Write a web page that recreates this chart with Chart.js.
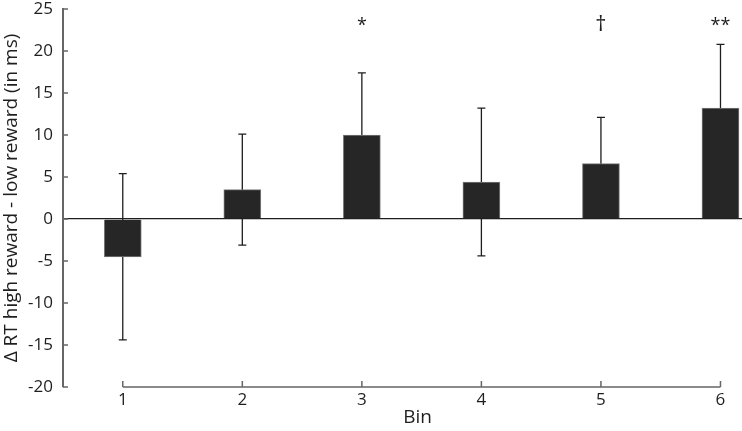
<!DOCTYPE html>
<html>
<head>
<meta charset="utf-8">
<script src="https://cdn.jsdelivr.net/npm/chart.js@4/dist/chart.umd.min.js"></script>
<style>
  html, body { margin: 0; padding: 0; background: #fff; }
  #wrap { width: 742px; height: 431px; }
</style>
</head>
<body>
<div id="wrap"><canvas id="c"></canvas></div>
<script>
const bins = [1, 2, 3, 4, 5, 6];
const means = [-4.5, 3.5, 10.0, 4.4, 6.6, 13.2];
const errors = [9.9, 6.6, 7.4, 8.8, 5.5, 7.6];
const marks = ["", "", "*", "", "†", "**"];
const yTicks = [-20, -15, -10, -5, 0, 5, 10, 15, 20, 25];

const cbar = "#262626";
const cedge = "#7a7a7a";
const cline = "#1e1e1e";
const caxis = "#666666";
const font = "'Open Sans', sans-serif";

// error bars, axis ticks and significance marks
const extras = {
  id: "extras",
  beforeDatasetsDraw(chart) {
    const ctx = chart.ctx;
    const x = chart.scales.x, y = chart.scales.y;
    ctx.save();
    ctx.strokeStyle = cline;
    ctx.lineWidth = 1.3;
    bins.forEach((b, i) => {
      const px = x.getPixelForValue(b);
      const top = y.getPixelForValue(means[i] + errors[i]);
      const bot = y.getPixelForValue(means[i] - errors[i]);
      ctx.beginPath();
      ctx.moveTo(px, top); ctx.lineTo(px, bot);
      ctx.moveTo(px - 4, top); ctx.lineTo(px + 4, top);
      ctx.moveTo(px - 4, bot); ctx.lineTo(px + 4, bot);
      ctx.stroke();
    });
    ctx.restore();
  },
  afterDraw(chart) {
    const ctx = chart.ctx;
    const x = chart.scales.x, y = chart.scales.y;
    const area = chart.chartArea;
    ctx.save();
    // y ticks pointing inward
    ctx.strokeStyle = caxis;
    ctx.lineWidth = 1.5;
    yTicks.forEach(v => {
      const py = y.getPixelForValue(v);
      ctx.beginPath();
      ctx.moveTo(area.left, py); ctx.lineTo(area.left + 5, py);
      ctx.stroke();
    });
    // x axis line only between first and last bin
    const x0 = x.getPixelForValue(bins[0]);
    const x1 = x.getPixelForValue(bins[bins.length - 1]);
    const by = area.bottom;
    ctx.beginPath();
    ctx.moveTo(x0, by); ctx.lineTo(x1, by);
    bins.forEach(b => {
      const px = x.getPixelForValue(b);
      ctx.moveTo(px, by); ctx.lineTo(px, by - 6);
    });
    ctx.stroke();
    // x title
    ctx.fillStyle = cline;
    ctx.font = "19px " + font;
    ctx.textAlign = "center";
    ctx.textBaseline = "middle";
    ctx.fillText("Bin", (x0 + x1) / 2 - 4, 418);
    // significance marks
    ctx.textBaseline = "alphabetic";
    bins.forEach((b, i) => {
      if (!marks[i]) return;
      ctx.font = (marks[i] === "†" ? "22px " : "18px ") + font;
      ctx.fillText(marks[i], x.getPixelForValue(b), y.getPixelForValue(22.4));
    });
    ctx.restore();
  }
};

new Chart(document.getElementById("c"), {
  type: "bar",
  data: {
    datasets: [{
      data: bins.map((b, i) => ({ x: b, y: means[i] })),
      backgroundColor: cbar,
      borderColor: cedge,
      borderWidth: 1,
      barThickness: 37
    }]
  },
  options: {
    responsive: true,
    maintainAspectRatio: false,
    animation: false,
    layout: { padding: { top: 9, left: 0, right: 0, bottom: 0 } },
    plugins: { legend: { display: false }, tooltip: { enabled: false } },
    scales: {
      x: {
        type: "linear",
        offset: false,
        min: 0.5,
        max: 6.18,
        afterBuildTicks: s => { s.ticks = bins.map(v => ({ value: v })); },
        afterFit: s => { s.height = 44; s.paddingLeft = 0; s.paddingRight = 0; },
        grid: { display: false, drawTicks: false, offset: false },
        border: { display: false },
        ticks: {
          padding: 3,
          color: cline,
          font: { family: font, size: 17 },
          maxRotation: 0
        }
      },
      y: {
        min: -20,
        max: 25,
        afterBuildTicks: s => { s.ticks = yTicks.map(v => ({ value: v })); },
        afterFit: s => { s.width = 63; s.paddingTop = 0; s.paddingBottom = 0; },
        grid: {
          drawTicks: false,
          color: c => c.tick && c.tick.value === 0 ? cline : "transparent",
          lineWidth: 1.3
        },
        border: { display: true, color: caxis, width: 2 },
        ticks: {
          padding: 10,
          color: cline,
          font: { family: font, size: 17 }
        },
        title: {
          display: true,
          text: "Δ RT high reward - low reward (in ms)",
          color: cline,
          font: { family: font, size: 19 },
          padding: 0
        }
      }
    }
  },
  plugins: [extras]
});
</script>
</body>
</html>
